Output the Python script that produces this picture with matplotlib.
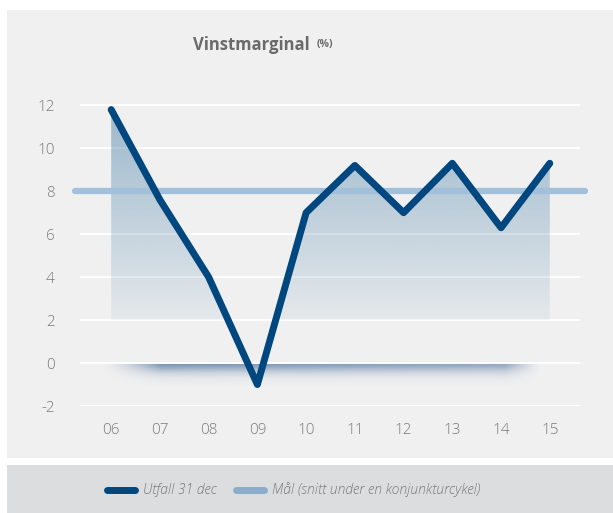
import numpy as np
import matplotlib.pyplot as plt
from matplotlib.patches import Rectangle
from matplotlib.path import Path
from matplotlib.lines import Line2D
from matplotlib.colors import to_rgb

# data
years = ['06', '07', '08', '09', '10', '11', '12', '13', '14', '15']
utfall = [11.8, 7.6, 4.0, -1.0, 7.0, 9.2, 7.0, 9.3, 6.3, 9.3]
mal = 8
yticks = [-2, 0, 2, 4, 6, 8, 10, 12]

dark = '#00467f'
light = '#a3c0da'
grey_txt = '#7a7a7a'

plt.rcParams['font.family'] = ['Open Sans', 'DejaVu Sans']
plt.rcParams['axes.unicode_minus'] = False

W, H = 613, 513
fig = plt.figure(figsize=(W / 100, H / 100), dpi=100)
fig.patch.set_facecolor('white')

# background panels
fig.patches.append(Rectangle((7 / W, 1 - 458 / H), 1, 448 / H, transform=fig.transFigure,
                             facecolor='#f0f0f0', edgecolor='none', zorder=-10))
fig.patches.append(Rectangle((7 / W, 0), 1, 48 / H, transform=fig.transFigure,
                             facecolor='#dcdddf', edgecolor='none', zorder=-10))

ax = fig.add_axes([80 / W, 1 - 406 / H, 500 / W, 305 / H])
ax.set_facecolor('none')
x = np.arange(len(years))
vals = np.array(utfall)

# white gridlines
for t in yticks:
    ax.axhline(t, color='white', lw=1.4, zorder=1)

# gradient fill between line and 2
poly = ax.fill_between(x, vals, 2, where=vals >= 2, interpolate=True, color='none')
clip = Path.make_compound_path(*poly.get_paths())
n = 256
grad = np.zeros((n, 1, 4))
grad[:, 0, :3] = to_rgb('#4a82aa')
grad[:, 0, 3] = np.linspace(0.52, 0.07, n)
im = ax.imshow(grad, extent=[0, 9, 2, 12], aspect='auto', origin='upper',
               interpolation='bilinear', zorder=2)
im.set_clip_path(clip, transform=ax.transData)

# soft shadow under the zero line
sx = np.linspace(0, 1, 400)
sy = np.linspace(0, 1, 60)
left = np.clip(sx / 0.14, 0, 1) ** 1.6
right = np.clip((1 - sx) / 0.08, 0, 1) ** 1.2
edge = left * right * (1 - 0.25 * sx)
vert = np.exp(-(sy / 0.4) ** 1.5)
shadow = np.zeros((60, 400, 4))
shadow[..., :3] = to_rgb('#2f5a8f')
shadow[..., 3] = 0.62 * vert[:, None] * edge[None, :]
ax.imshow(shadow, extent=[-0.25, 8.8, -1.0, -0.06], aspect='auto', origin='upper',
          interpolation='bilinear', zorder=1.5)
ax.set_xlim(-0.64, 9.62)
ax.set_ylim(-2, 12.2)

# target line and outcome line
ax.plot([-0.74, 9.72], [mal, mal], color=light, lw=4.5, solid_capstyle='round',
        zorder=3, clip_on=False)
ax.plot(x, vals, color=dark, lw=5, solid_capstyle='round', solid_joinstyle='round',
        zorder=4, clip_on=False)

ax.set_xticks(x)
ax.set_xticklabels(years)
ax.set_yticks(yticks)
ax.tick_params(length=0, labelsize=11, labelcolor=grey_txt)
ax.tick_params(axis='y', pad=18)
ax.tick_params(axis='x', pad=12)
for lab in ax.get_xticklabels() + ax.get_yticklabels():
    lab.set_fontweight('light')
for s in ax.spines.values():
    s.set_visible(False)

# title
fig.text(310 / W, 1 - 45 / H, 'Vinstmarginal', ha='right', va='center', fontsize=12,
         fontweight='bold', color='#6a6a6a')
fig.text(317 / W, 1 - 44 / H, '(%)', ha='left', va='center', fontsize=7.5,
         fontweight='bold', color='#6a6a6a')

# legend
handles = [Line2D([], [], color=dark, lw=5, solid_capstyle='round'),
           Line2D([], [], color='#8caccb', lw=5, solid_capstyle='round')]
leg = fig.legend(handles, ['Utfall 31 dec', 'Mål (snitt under en konjunkturcykel)'],
                 loc='center', bbox_to_anchor=(294 / W, 1 - 490 / H), ncol=2, frameon=False,
                 handlelength=2.0, handletextpad=0.6, columnspacing=1.4,
                 prop={'size': 10, 'style': 'italic', 'weight': 'light'})
for t in leg.get_texts():
    t.set_color(grey_txt)

fig.savefig('out.png', dpi=100)
